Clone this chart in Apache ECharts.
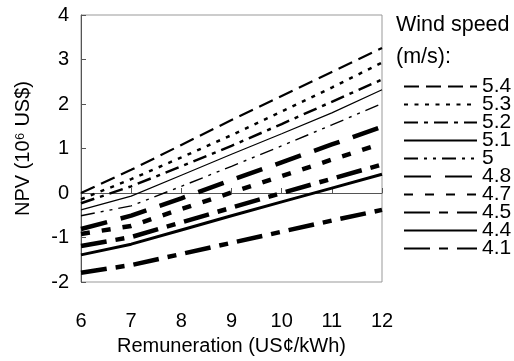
<!DOCTYPE html>
<html>
<head>
<meta charset="utf-8">
<script src="https://cdn.jsdelivr.net/npm/echarts@6/dist/echarts.min.js"></script>
<style>
html, body { margin: 0; padding: 0; background: #fff; }
#chart { width: 514px; height: 361px; }
</style>
</head>
<body>
<div id="chart"></div>
<script>
// x values (US cents / kWh)
var remuneration = [6, 7, 8, 9, 10, 11, 12];

// wind speed labels, top to bottom as in the legend
var speeds = ['5.4', '5.3', '5.2', '5.1', '5', '4.8', '4.7', '4.5', '4.4', '4.1'];

// NPV in 10^6 US$
var npv54 = [0.00, 0.52, 1.08, 1.64, 2.18, 2.72, 3.26];
var npv53 = [-0.14, 0.31, 0.80, 1.30, 1.83, 2.37, 2.93];
var npv52 = [-0.23, 0.15, 0.60, 1.06, 1.55, 2.05, 2.55];
var npv51 = [-0.38, -0.07, 0.40, 0.87, 1.33, 1.80, 2.32];
var npv50 = [-0.51, -0.29, 0.15, 0.60, 1.06, 1.53, 2.01];
var npv48 = [-0.81, -0.51, -0.12, 0.29, 0.69, 1.09, 1.49];
var npv47 = [-0.92, -0.74, -0.36, 0.01, 0.38, 0.75, 1.11];
var npv45 = [-1.19, -0.99, -0.66, -0.33, 0.00, 0.32, 0.64];
var npv44 = [-1.39, -1.15, -0.83, -0.51, -0.20, 0.11, 0.42];
var npv41 = [-1.79, -1.62, -1.37, -1.12, -0.87, -0.62, -0.38];

var npvSeries = [npv54, npv53, npv52, npv51, npv50, npv48, npv47, npv45, npv44, npv41];

// line looks, one per series
var lineLooks = [
    { width: 2.2, type: [15, 7] },
    { width: 2.5, type: [4, 6.5] },
    { width: 2.5, type: [14, 6, 4, 6] },
    { width: 1.2, type: 'solid' },
    { width: 1.4, type: [14, 6, 3, 6, 3, 6] },
    { width: 4.5, type: [27, 14] },
    { width: 4.5, type: [9, 12] },
    { width: 4.5, type: [26, 9, 9, 9] },
    { width: 3, type: 'solid' },
    { width: 4.5, type: [26, 9, 9, 9] }
];

var font = 'Liberation Sans, Arial, sans-serif';

var chart = echarts.init(document.getElementById('chart'));

var series = speeds.map(function (name, i) {
    return {
        name: name,
        type: 'line',
        symbol: 'none',
        showSymbol: false,
        data: remuneration.map(function (x, j) { return [x, npvSeries[i][j]]; }),
        lineStyle: {
            color: '#000',
            width: lineLooks[i].width,
            type: lineLooks[i].type,
            cap: 'butt'
        },
        itemStyle: { color: '#000' }
    };
});

var option = {
    animation: false,
    backgroundColor: '#fff',
    grid: {
        left: 81, top: 15, right: 132, bottom: 78,
        show: true, borderColor: '#999', borderWidth: 1
    },
    xAxis: {
        type: 'value',
        min: 6, max: 12, interval: 1,
        name: 'Remuneration (US¢/kWh)',
        nameLocation: 'middle',
        nameGap: 54,
        nameTextStyle: { fontFamily: font, fontSize: 20, color: '#000' },
        axisLine: { lineStyle: { color: '#555', width: 1 } },
        axisTick: { inside: true, length: 5, lineStyle: { color: '#555' } },
        axisLabel: { fontFamily: font, fontSize: 20, color: '#000', margin: 29 },
        splitLine: { show: false }
    },
    yAxis: {
        type: 'value',
        min: -2, max: 4, interval: 1,
        name: 'NPV (10⁶ US$)',
        nameLocation: 'middle',
        nameGap: 48,
        nameTextStyle: { fontFamily: font, fontSize: 20, color: '#000' },
        axisLine: { show: true, lineStyle: { color: '#555', width: 1 } },
        axisTick: { show: true, inside: true, length: 5, lineStyle: { color: '#555' } },
        axisLabel: { fontFamily: font, fontSize: 20, color: '#000', margin: 12 },
        splitLine: { show: false }
    },
    legend: {
        orient: 'vertical',
        left: 403,
        top: 76,
        itemWidth: 73,
        itemHeight: 10,
        itemGap: -3,
        padding: 0,
        itemTextGap: 2,
        data: speeds,
        itemStyle: { opacity: 0 },
        textStyle: { fontFamily: font, fontSize: 21, color: '#000' }
    },
    graphic: [
        { type: 'text', left: 396, top: 14, style: { text: 'Wind speed', font: '21.5px ' + font, fill: '#000' } },
        { type: 'text', left: 396, top: 46, style: { text: '(m/s):', font: '21.5px ' + font, fill: '#000' } }
    ],
    series: series
};

chart.setOption(option);
</script>
</body>
</html>
